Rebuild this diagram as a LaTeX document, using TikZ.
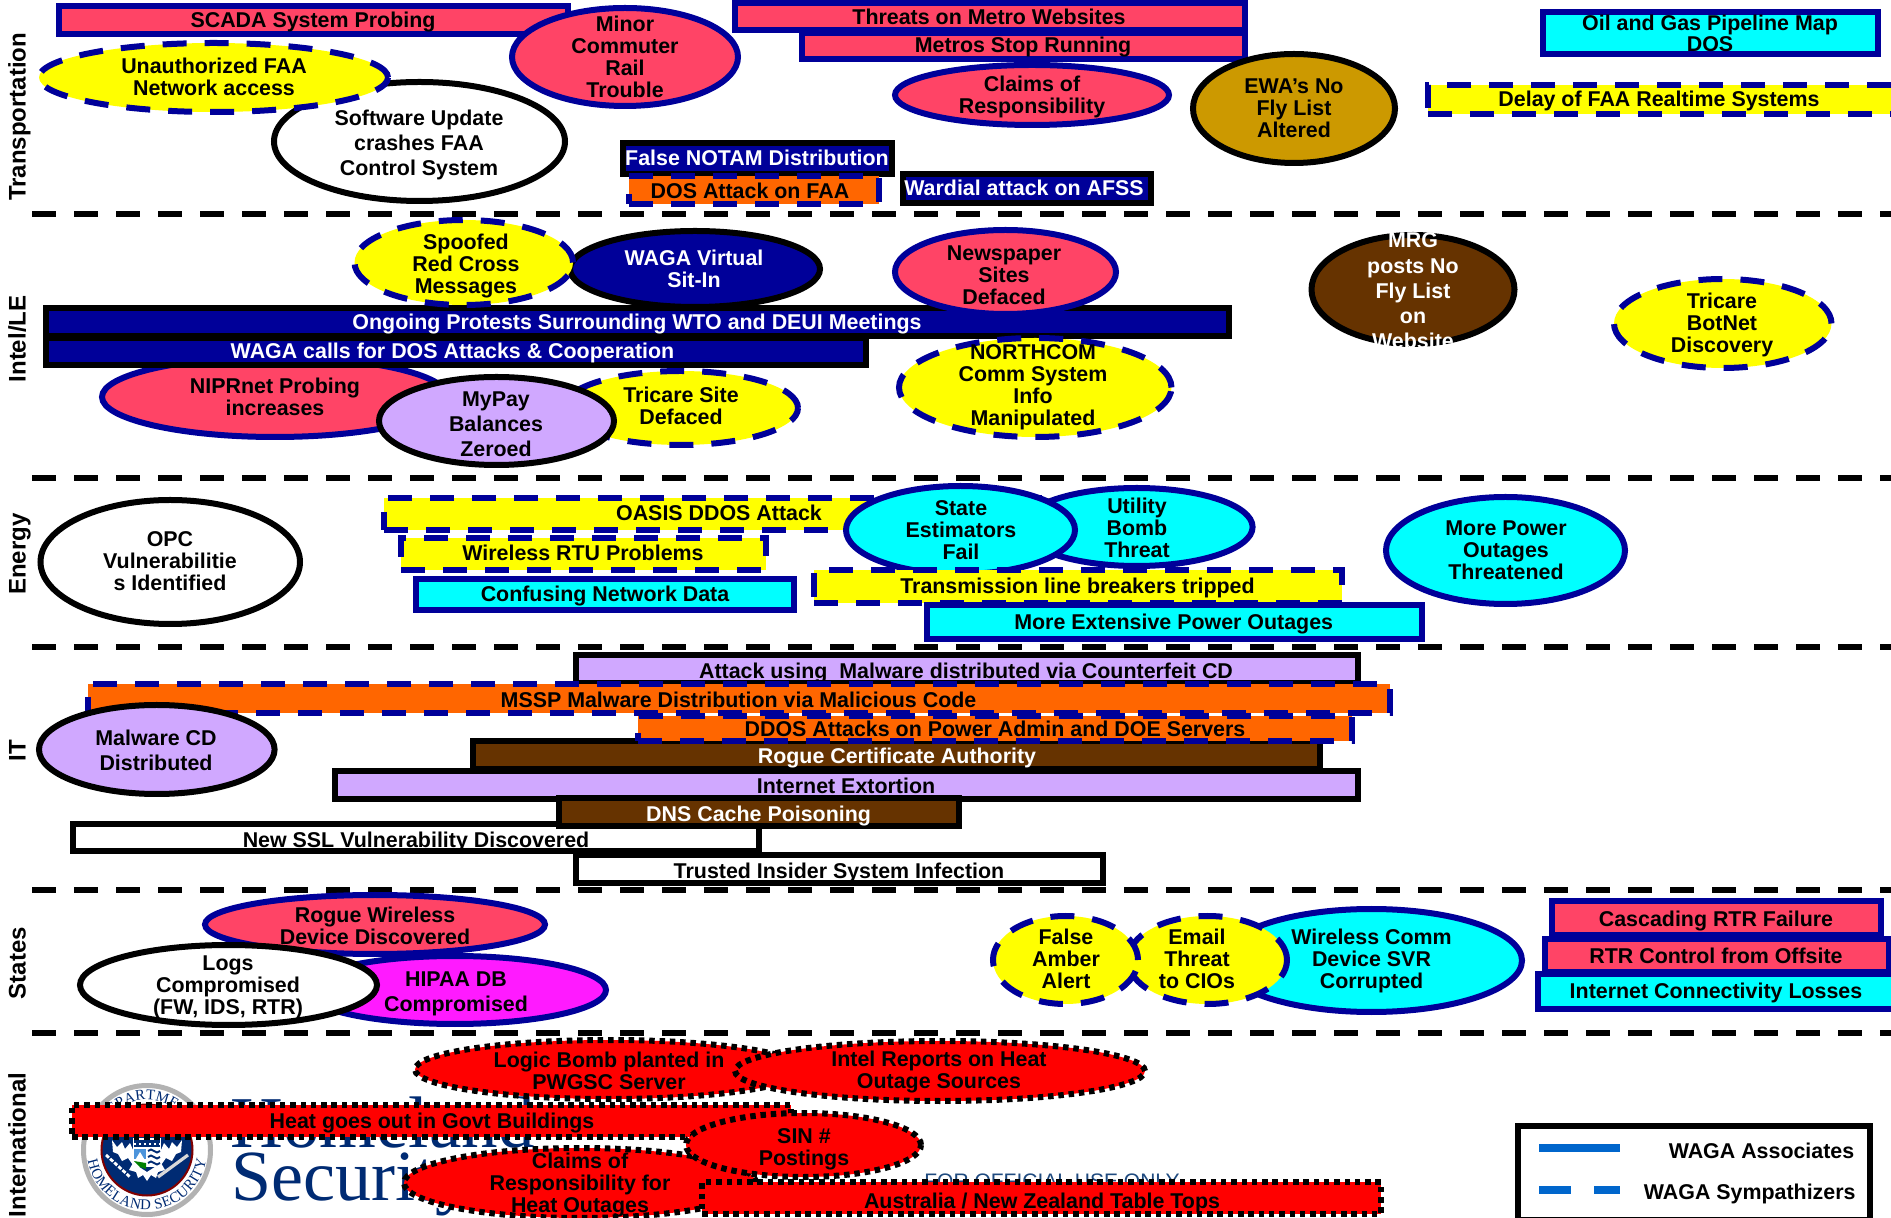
\documentclass[tikz,border=0pt]{standalone}
\usepackage{fontspec}
\setmainfont{Liberation Sans}
\newfontfamily\dhsserif{Liberation Serif}
\usetikzlibrary{shapes.geometric,decorations.text}
\definecolor{navyc}{HTML}{000099}
\definecolor{pinkc}{HTML}{FF4466}
\definecolor{lilacc}{HTML}{D0A8FF}
\definecolor{orangec}{HTML}{FF6600}
\definecolor{brownc}{HTML}{663300}
\definecolor{goldc}{HTML}{CC9900}
\definecolor{magc}{HTML}{FF1AFF}
\definecolor{cyanc}{HTML}{00FFFF}
\definecolor{yellowc}{HTML}{FFFF00}
\definecolor{redc}{HTML}{FF0000}
\definecolor{dhsblue}{HTML}{002B73}
\definecolor{fouoc}{HTML}{1F4A7F}
\definecolor{legc}{HTML}{0066CC}
\newcommand\TopStr{\vrule width 0pt height 10.4pt depth 0pt}
\newcommand\BotStr{\vrule width 0pt height 0pt depth 2.6pt}
\newcommand\Sh[6]{\node[base,#1,minimum width={(#5-#3-6)*0.5pt},minimum height={(#6-#4-6)*0.5pt}] (#2) at ({(#3+#5)/2},{(#4+#6)/2}) {};}
\tikzset{
  base/.style={inner sep=0pt,outer sep=0pt,line width=3pt},
  sn/.style={draw=navyc},
  sk/.style={draw=black},
  dn/.style={draw=navyc,dash pattern=on 12pt off 9pt},
  dk/.style={draw=black,dash pattern=on 2.75pt off 2.4pt},
  ov/.style={ellipse},
  ls/.style={font=\fontsize{10.7}{#1}\selectfont\bfseries},
  lab/.style={ls=11,align=center,inner sep=0pt,text=black,execute at begin node=\TopStr,execute at end node=\BotStr},
  wlab/.style={lab,text=white},
  mlab/.style={lab,yshift=-1.25pt},
  wmlab/.style={wlab,yshift=-1.25pt},
  sec/.style={font=\fontsize{12}{14}\selectfont\bfseries,rotate=90,anchor=base,inner sep=0pt},
  sepline/.style={line width=2.75pt,draw=black,dash pattern=on 12pt off 9pt},
  legline/.style={line width=4pt,draw=legc},
}
\begin{document}
\begin{tikzpicture}[x=0.5pt,y=-0.5pt]
\path[use as bounding box,clip] (0,0) rectangle (1891,1218);
\fill[white] (0,0) rectangle (1891,1218);

% section separators
\foreach \n/\yy in {a/214,b/478,c/647,d/890,e/1033}{
  \coordinate (sl\n) at (32,\yy);
  \coordinate (sr\n) at (1895,\yy);
  \draw[sepline] (sl\n) -- (sr\n);
}
\node[sec] (secT) at (25.6,117) {Transportation};
\node[sec] (secI) at (25.6,339) {Intel/LE};
\node[sec] (secE) at (25.6,554) {Energy};
\node[sec] (secIT) at (25.6,751) {IT};
\node[sec] (secS) at (25.6,963) {States};
\node[sec] (secN) at (25.6,1145) {International};

% ---------- Transportation
\Sh{sn,fill=pinkc}{scada}{56}{3.5}{571}{37}
\node[lab] (scada-t) at (313,20) {SCADA System Probing};
\Sh{sn,fill=pinkc}{threats}{732}{0}{1248}{33}
\node[lab] (threats-t) at (989,17) {Threats on Metro Websites};
\Sh{sn,fill=pinkc}{metros}{799}{30}{1248}{62}
\node[lab] (metros-t) at (1023,45) {Metros Stop Running};
\Sh{ov,sn,fill=pinkc}{claims}{892}{62}{1172}{128}
\node[mlab] (claims-t) at (1032,95) {Claims of\\Responsibility};
\Sh{ov,sn,fill=pinkc}{minor}{509}{5}{741}{109}
\node[mlab] (minor-t) at (625,57) {Minor\\Commuter\\Rail\\Trouble};
\Sh{ov,sk,fill=white}{soft}{271}{79}{568}{204}
\node[mlab,ls=12.6] (soft-t) at (419,143) {Software Update\\crashes FAA\\Control System};
\Sh{ov,dn,fill=yellowc}{unauth}{36}{40}{391}{115}
\node[mlab] (unauth-t) at (214,77) {Unauthorized FAA\\Network access};
\Sh{sk,fill=navyc}{notam}{620}{140}{895}{177}
\node[wlab] (notam-t) at (757,158) {False NOTAM Distribution};
\Sh{dn,fill=orangec}{dosfaa}{626}{173}{882}{207}
\node[lab] (dosfaa-t) at (750,191) {DOS Attack on FAA};
\Sh{sk,fill=navyc}{wardial}{900}{171}{1154}{206}
\node[wlab] (wardial-t) at (1024,187.5) {Wardial attack on AFSS};
\Sh{ov,sk,fill=goldc}{ewa}{1190}{51}{1398}{166}
\node[mlab] (ewa-t) at (1294,108) {EWA’s No\\Fly List\\Altered};
\Sh{sn,fill=cyanc}{oil}{1540}{9.5}{1881}{57}
\node[mlab,ls=10.6] (oil-t) at (1710,33) {Oil and Gas Pipeline Map\\DOS};
\Sh{dn,fill=yellowc}{delay}{1425}{82}{1900}{117}
\node[lab] (delay-t) at (1659,99) {Delay of FAA Realtime Systems};

% ---------- Intel/LE
\Sh{ov,sk,fill=navyc}{virtual}{567}{228}{823}{310}
\node[wmlab] (virtual-t) at (694,269) {WAGA Virtual\\Sit-In};
\Sh{sk,fill=navyc}{ongoing}{42.5}{305}{1232}{339}
\node[wlab] (ongoing-t) at (637,322) {Ongoing Protests Surrounding WTO and DEUI Meetings};
\Sh{ov,dn,fill=yellowc}{spoof}{351.5}{217}{576}{308}
\node[mlab] (spoof-t) at (466,264) {Spoofed\\Red Cross\\Messages};
\Sh{ov,sn,fill=pinkc}{news}{892}{227}{1119}{317}
\node[mlab] (news-t) at (1004,275) {Newspaper\\Sites\\Defaced};
\Sh{ov,dn,fill=yellowc}{tricare}{560}{368}{801}{448}
\node[mlab] (tricare-t) at (681,406) {Tricare Site\\Defaced};
\Sh{ov,sn,fill=pinkc}{nipr}{99}{354}{451}{440}
\node[mlab] (nipr-t) at (275,397) {NIPRnet Probing\\increases};
\Sh{sk,fill=navyc}{calls}{42.5}{335}{868.5}{368}
\node[wlab] (calls-t) at (452.5,351) {WAGA calls for DOS Attacks \& Cooperation};
\Sh{ov,sk,fill=lilacc}{mypay}{376}{374}{617}{468}
\node[mlab,ls=12.6] (mypay-t) at (496,424) {MyPay\\Balances\\Zeroed};
\Sh{ov,dn,fill=yellowc}{north}{896}{335}{1174.5}{440}
\node[mlab] (north-t) at (1033,385) {NORTHCOM\\Comm System\\Info\\Manipulated};
\Sh{ov,sk,fill=brownc}{mrg}{1308.5}{232}{1517.5}{347}
\node[wmlab,ls=12.6] (mrg-t) at (1413,291) {MRG\\posts No\\Fly List\\on\\Website};
\Sh{ov,dn,fill=yellowc}{botnet}{1611}{276}{1834.5}{371}
\node[mlab] (botnet-t) at (1722,323) {Tricare\\BotNet\\Discovery};

% ---------- Energy
\Sh{ov,sk,fill=white}{opc}{37.5}{497}{303}{627}
\node[mlab] (opc-t) at (170,561) {OPC\\Vulnerabilitie\\s Identified};
\Sh{dn,fill=yellowc}{oasis}{381}{495}{1057}{533}
\node[lab] (oasis-t) at (719,513) {OASIS DDOS Attack};
\Sh{dn,fill=yellowc}{rtu}{398}{535}{768.5}{572.7}
\node[lab] (rtu-t) at (583,553) {Wireless RTU Problems};
\Sh{sn,fill=cyanc}{confuse}{413}{576}{797}{613}
\node[lab] (confuse-t) at (605,594) {Confusing Network Data};
\Sh{ov,sn,fill=cyanc}{utility}{1018}{485}{1255.6}{569}
\node[mlab] (utility-t) at (1137,528) {Utility\\Bomb\\Threat};
\Sh{ov,sn,fill=cyanc}{state}{843}{483}{1078}{577}
\node[mlab] (state-t) at (961,530) {State\\Estimators\\Fail};
\Sh{ov,sn,fill=cyanc}{morepower}{1383}{494}{1628}{607}
\node[mlab] (morepower-t) at (1506,550) {More Power\\Outages\\Threatened};
\Sh{dn,fill=yellowc}{breakers}{811}{567}{1345}{606}
\node[lab] (breakers-t) at (1077.5,586) {Transmission line breakers tripped};
\Sh{sn,fill=cyanc}{extensive}{923.5}{602}{1425}{642}
\node[lab] (extensive-t) at (1173.7,621.7) {More Extensive Power Outages};

% ---------- IT
\Sh{sk,fill=lilacc}{attack}{573}{652}{1361}{686}
\node[lab] (attack-t) at (966,671) {Attack using\ \ Malware distributed via Counterfeit CD};
\Sh{sk,fill=brownc}{rogue}{470}{738}{1323}{772}
\Sh{dn,fill=orangec}{mssp}{85}{681}{1393}{716}
\node[lab] (mssp-t) at (738.5,700) {MSSP Malware Distribution via Malicious Code};
\Sh{dn,fill=orangec}{ddos}{635}{713}{1355}{744}
\node[lab] (ddos-t) at (995,729) {DDOS Attacks on Power Admin and DOE Servers};
\node[wlab] (rogue-t) at (897,756) {Rogue Certificate Authority};
\Sh{sk,fill=lilacc}{extort}{332}{768}{1361}{802}
\node[lab] (extort-t) at (846,786) {Internet Extortion};
\Sh{sk,fill=white}{ssl}{70}{821}{762}{854}
\node[lab] (ssl-t) at (416,840) {New SSL Vulnerability Discovered};
\Sh{sk,fill=brownc}{dns}{556}{795}{962}{829}
\node[wlab] (dns-t) at (758.6,814) {DNS Cache Poisoning};
\Sh{sk,fill=white}{trusted}{573}{852}{1106}{886}
\node[lab] (trusted-t) at (839,871) {Trusted Insider System Infection};
\Sh{ov,sk,fill=lilacc}{malware}{36}{702}{277.6}{797}
\node[mlab,ls=12.6] (malware-t) at (156,750) {Malware CD\\Distributed};

% ---------- States
\Sh{ov,sn,fill=pinkc}{roguew}{202}{892}{548}{957}
\node[mlab,ls=10.8] (roguew-t) at (375,926) {Rogue Wireless\\Device Discovered};
\Sh{ov,sn,fill=magc}{hipaa}{301}{953}{609}{1027}
\node[mlab,ls=12.6] (hipaa-t) at (456,992) {HIPAA DB\\Compromised};
\Sh{ov,sk,fill=white}{logs}{77}{942}{380}{1028}
\node[mlab] (logs-t) at (228,985) {Logs\\Compromised\\(FW, IDS, RTR)};
\Sh{ov,sn,fill=cyanc}{wcomm}{1218}{906}{1525}{1015}
\node[mlab] (wcomm-t) at (1371.5,959) {Wireless Comm\\Device SVR\\Corrupted};
\Sh{ov,dn,fill=yellowc}{email}{1125}{913}{1290}{1007}
\node[mlab] (email-t) at (1197,959) {Email\\Threat\\to CIOs};
\Sh{ov,dn,fill=yellowc}{amber}{990}{913}{1141}{1007}
\node[mlab] (amber-t) at (1066,959) {False\\Amber\\Alert};
\Sh{sn,fill=pinkc}{casc}{1549}{898}{1883.6}{938}
\node[lab] (casc-t) at (1716,919) {Cascading RTR Failure};
\Sh{sn,fill=pinkc}{rtr}{1542}{936}{1892}{975}
\node[lab] (rtr-t) at (1716,956) {RTR Control from Offsite};
\Sh{sn,fill=cyanc}{inetc}{1535}{971}{1905}{1012}
\node[lab] (inetc-t) at (1716,991) {Internet Connectivity Losses};

% ---------- DHS logo (background of the International band)
\filldraw[line width=2.5pt,draw=black!30,fill=white] (147,1150) ellipse [x radius=63.5,y radius=64.5];
\filldraw[line width=1pt,draw=red!50!black,fill=dhsblue] (147,1150) circle [radius=45.5];
\path[decorate,decoration={text along path,text align={fit to path},text={|\dhsserif\color{dhsblue}\fontsize{7.4}{8}\selectfont|HOMELAND SECURITY}}] (147,1150) ++(190:30pt) arc[start angle=190,end angle=350,radius=30pt];
\path[decorate,decoration={text along path,text align=center,text={|\dhsserif\color{dhsblue}\fontsize{7.4}{8}\selectfont|DEPARTMENT}}] (147,1150) ++(130:25pt) arc[start angle=130,end angle=50,radius=25pt];
\fill[white] (112,1140)--(117,1147)--(122,1142)--(125,1149)--(130,1143)--(133,1150)--(133,1165)--(128,1158)--(122,1161)--(118,1154)--(113,1152)--cycle;
\fill[white] (182,1140)--(177,1147)--(172,1142)--(169,1149)--(164,1143)--(161,1150)--(161,1165)--(166,1158)--(172,1161)--(176,1154)--(181,1152)--cycle;
\fill[white] (133,1163)--(147,1172)--(161,1163)--(165,1170)--(158,1172)--(156,1178)--(151,1175)--(147,1181)--(143,1175)--(138,1178)--(136,1172)--(129,1170)--cycle;
\draw[white,line width=1.4pt,dash pattern=on 2pt off .8pt] (106,1155) -- (130,1177);
\draw[white!85!black,line width=1.6pt] (188,1155) -- (158,1177);
\fill[white] (133,1138) rectangle (161,1167);
\fill[dhsblue] (134,1140) rectangle (160,1147);
\draw[white,line width=.8pt,dash pattern=on 1pt off 1.5pt] (134,1144) -- (160,1144);
\fill[legc!70] (134,1149) rectangle (146,1159);
\fill[white] (134,1162)--(140,1152)--(146,1162)--cycle;
\fill[green!50!black] (134,1161)--(146,1163)--(146,1169)--(140,1167)--cycle;
\foreach \yy in {1151,1157,1163}{\draw[dhsblue,line width=1pt] (148,\yy) cos (151,\yy-1.5) sin (154,\yy) cos (157,\yy+1.5) sin (160,\yy);}

\node[anchor=base west,inner sep=0pt,text=dhsblue,font=\dhsserif\fontsize{36.5}{40}\selectfont] (homeland) at (230,1147) {Homeland};
\node[anchor=base west,inner sep=0pt,text=dhsblue,font=\dhsserif\fontsize{36}{38}\selectfont] (security) at (231,1200.5) {Security};
\node[anchor=base west,inner sep=0pt,text=fouoc,font=\fontsize{10.5}{12}\selectfont] (fouo) at (924,1188) {FOR OFFICIAL USE ONLY};

% ---------- International
\Sh{dk,fill=redc}{heat}{69}{1102}{794}{1140}
\node[lab] (heat-t) at (432,1121) {Heat goes out in Govt Buildings};
\Sh{ov,dk,fill=redc}{logic}{412}{1037}{806}{1102}
\node[mlab] (logic-t) at (609,1071) {Logic Bomb planted in\\PWGSC Server};
\Sh{ov,dk,fill=redc}{intelr}{732}{1038}{1148}{1104}
\node[mlab] (intelr-t) at (939,1070) {Intel Reports on Heat\\Outage Sources};
\Sh{ov,dk,fill=redc}{claimsh}{401}{1145}{759}{1221}
\node[mlab] (claimsh-t) at (580,1183) {Claims of\\Responsibility for\\Heat Outages};
\Sh{ov,dk,fill=redc}{sin}{683}{1110}{924}{1180}
\node[mlab] (sin-t) at (804,1147) {SIN \#\\Postings};
\Sh{dk,fill=redc}{aus}{699.4}{1179}{1384}{1217}
\node[lab] (aus-t) at (1042,1201) {Australia / New Zealand Table Tops};

% ---------- legend
\Sh{sk,fill=white}{legend}{1514.5}{1123}{1873}{1223}
\coordinate (la1) at (1539,1148);
\coordinate (la2) at (1620,1148);
\coordinate (lb1) at (1539,1189.5);
\coordinate (lb2) at (1620,1189.5);
\draw[legline] (la1) -- (la2);
\draw[legline,dash pattern=on 16pt off 11.5pt] (lb1) -- (lb2);
\node[lab] (lega) at (1761.5,1151) {WAGA Associates};
\node[lab] (legb) at (1749.7,1192) {WAGA Sympathizers};
\end{tikzpicture}
\end{document}
